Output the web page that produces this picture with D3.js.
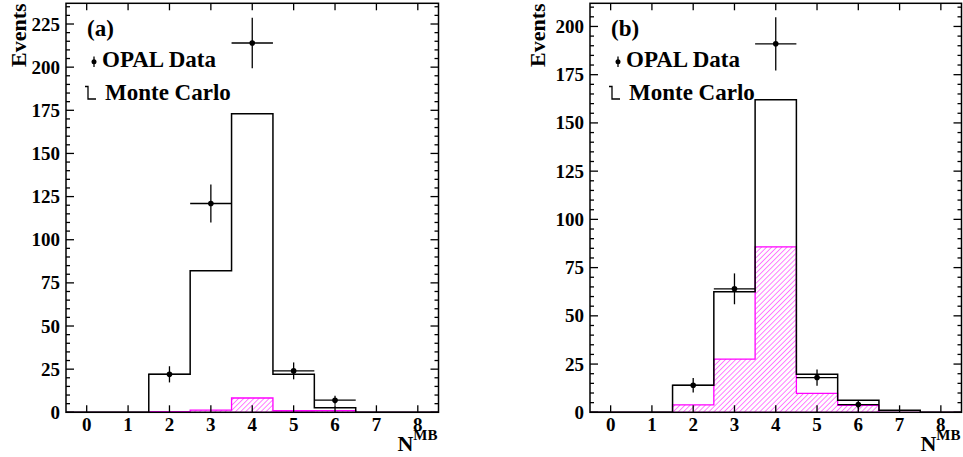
<!DOCTYPE html>
<html>
<head>
<meta charset="utf-8">
<script src="https://cdn.jsdelivr.net/npm/d3@7"></script>
<style>
  html, body { margin: 0; padding: 0; background: #fff; }
  svg { display: block; }
</style>
</head>
<body>
<svg id="chart" width="963" height="457" font-family="'Liberation Serif', 'Times New Roman', Tinos, Times, serif" font-weight="bold"></svg>
<script>
// Multiplicity bins N^MB
const bins = [0, 1, 2, 3, 4, 5, 6, 7, 8];
const xTicks = [0, 1, 2, 3, 4, 5, 6, 7, 8];

// Panel (a)
const mcA = [0, 0, 22, 82, 173, 22, 2.7, 0, 0];
const bgA = [0, 0, 0.4, 1.3, 8.3, 0.9, 1.0, 0, 0];
const dataBinsA = [2, 3, 4, 5, 6];
const dataA = [22, 121, 214, 24, 7];
const yTicksA = [0, 25, 50, 75, 100, 125, 150, 175, 200, 225];

// Panel (b)
const mcB = [0, 0, 14, 62.5, 162, 19.7, 6.2, 1, 0];
const bgB = [0, 0, 3.8, 27.6, 85.7, 9.8, 3.6, 0, 0];
const dataBinsB = [2, 3, 4, 5, 6];
const dataB = [14, 64, 191, 18, 4];
const yTicksB = [0, 25, 50, 75, 100, 125, 150, 175, 200];

const legendData = "OPAL Data";
const legendMC = "Monte Carlo";

const svg = d3.select("#chart");

// hatch pattern for the magenta component
const defs = svg.append("defs");
defs.append("pattern")
  .attr("id", "hatch")
  .attr("patternUnits", "userSpaceOnUse")
  .attr("width", 3.6).attr("height", 3.6)
  .attr("patternTransform", "rotate(45)")
  .append("line")
  .attr("x1", 0).attr("y1", 0).attr("x2", 0).attr("y2", 3.6)
  .attr("stroke", "#ff00ff").attr("stroke-width", 1);

function stepPoints(values) {
  const pts = [[bins[0] - 0.5, 0]];
  values.forEach((v, i) => {
    pts.push([bins[i] - 0.5, v]);
    pts.push([bins[i] + 0.5, v]);
  });
  pts.push([bins[bins.length - 1] + 0.5, 0]);
  return pts;
}

function panel(opt) {
  const x = d3.scaleLinear().domain([-0.5, 8.5]).range([opt.x0, opt.x1]);
  const y = d3.scaleLinear().domain([0, opt.yMax]).range([412.3, 3.3]);
  const g = svg.append("g");
  const line = d3.line().x(d => x(d[0])).y(d => y(d[1]));

  // hatched component
  g.append("path")
    .attr("d", line(stepPoints(opt.bg)) + "Z")
    .attr("fill", "url(#hatch)")
    .attr("stroke", "#ff00ff").attr("stroke-width", 1.3);

  // Monte Carlo total
  g.append("path")
    .attr("d", line(stepPoints(opt.mc)))
    .attr("fill", "none")
    .attr("stroke", "#000").attr("stroke-width", 1.5);

  // data points with errors
  const pts = g.append("g");
  opt.dataBins.forEach((b, i) => {
    const v = opt.data[i], e = Math.sqrt(v);
    pts.append("line").attr("x1", x(b - 0.5)).attr("x2", x(b + 0.5))
      .attr("y1", y(v)).attr("y2", y(v)).attr("stroke", "#000").attr("stroke-width", 1.3);
    pts.append("line").attr("x1", x(b)).attr("x2", x(b))
      .attr("y1", y(v - e)).attr("y2", y(v + e)).attr("stroke", "#000").attr("stroke-width", 1.3);
    pts.append("circle").attr("cx", x(b)).attr("cy", y(v)).attr("r", 2.8).attr("fill", "#000");
  });

  // frame
  const [X0, X1] = x.range(), [Y0, Y1] = y.range();
  g.append("rect").attr("x", X0).attr("y", Y1).attr("width", X1 - X0).attr("height", Y0 - Y1)
    .attr("fill", "none").attr("stroke", "#000").attr("stroke-width", 1.5);

  // y ticks: major every 25, minor every 5, on both sides
  const minor = d3.range(0, opt.yMax + 0.001, 5);
  minor.forEach(t => {
    const len = (t % 25 === 0) ? 8 : 4;
    g.append("line").attr("x1", X0).attr("x2", X0 + len).attr("y1", y(t)).attr("y2", y(t))
      .attr("stroke", "#000").attr("stroke-width", 1.3);
    g.append("line").attr("x1", X1).attr("x2", X1 - len).attr("y1", y(t)).attr("y2", y(t))
      .attr("stroke", "#000").attr("stroke-width", 1.3);
  });
  opt.yTicks.forEach(t => {
    g.append("text").attr("x", X0 - 6).attr("y", y(t) + 6.5)
      .attr("text-anchor", "end").attr("font-size", 19).text(t);
  });

  // x ticks at integers, bottom and top
  xTicks.forEach(t => {
    g.append("line").attr("x1", x(t)).attr("x2", x(t)).attr("y1", Y0).attr("y2", Y0 - 7)
      .attr("stroke", "#000").attr("stroke-width", 1.3);
    g.append("line").attr("x1", x(t)).attr("x2", x(t)).attr("y1", Y1).attr("y2", Y1 + 7)
      .attr("stroke", "#000").attr("stroke-width", 1.3);
    g.append("text").attr("x", x(t)).attr("y", 431)
      .attr("text-anchor", "middle").attr("font-size", 19).text(t);
  });

  // axis titles
  g.append("text")
    .attr("transform", `translate(${opt.yTitleX},67) rotate(-90)`)
    .attr("text-anchor", "start").attr("font-size", 22).text("Events");
  const xt = g.append("text").attr("x", X1 - 1).attr("y", 451).attr("text-anchor", "end").attr("font-size", 22);
  xt.append("tspan").text("N");
  xt.append("tspan").attr("dy", -11).attr("font-size", 15).text("MB");

  // legend
  const lx = X0 + 20;
  g.append("text").attr("x", lx + 1).attr("y", 36).attr("font-size", 23).text(opt.label);
  g.append("line").attr("x1", lx + 8).attr("x2", lx + 8).attr("y1", 56.5).attr("y2", 67)
    .attr("stroke", "#000").attr("stroke-width", 1.3);
  g.append("circle").attr("cx", lx + 8).attr("cy", 61.7).attr("r", 2.5).attr("fill", "#000");
  g.append("text").attr("x", lx + 16).attr("y", 67).attr("font-size", 23).text(legendData);
  g.append("path").attr("d", `M${lx - 1},86.5 H${lx + 2} V99 H${lx + 10}`)
    .attr("fill", "none").attr("stroke", "#000").attr("stroke-width", 1.3);
  g.append("text").attr("x", lx + 19).attr("y", 100).attr("font-size", 23).text(legendMC);
}

panel({ x0: 66, x1: 438.5, yMax: 237, mc: mcA, bg: bgA, dataBins: dataBinsA, data: dataA, yTicks: yTicksA, label: "(a)", yTitleX: 26 });
panel({ x0: 590, x1: 961.5, yMax: 212, mc: mcB, bg: bgB, dataBins: dataBinsB, data: dataB, yTicks: yTicksB, label: "(b)", yTitleX: 545 });
</script>
</body>
</html>
